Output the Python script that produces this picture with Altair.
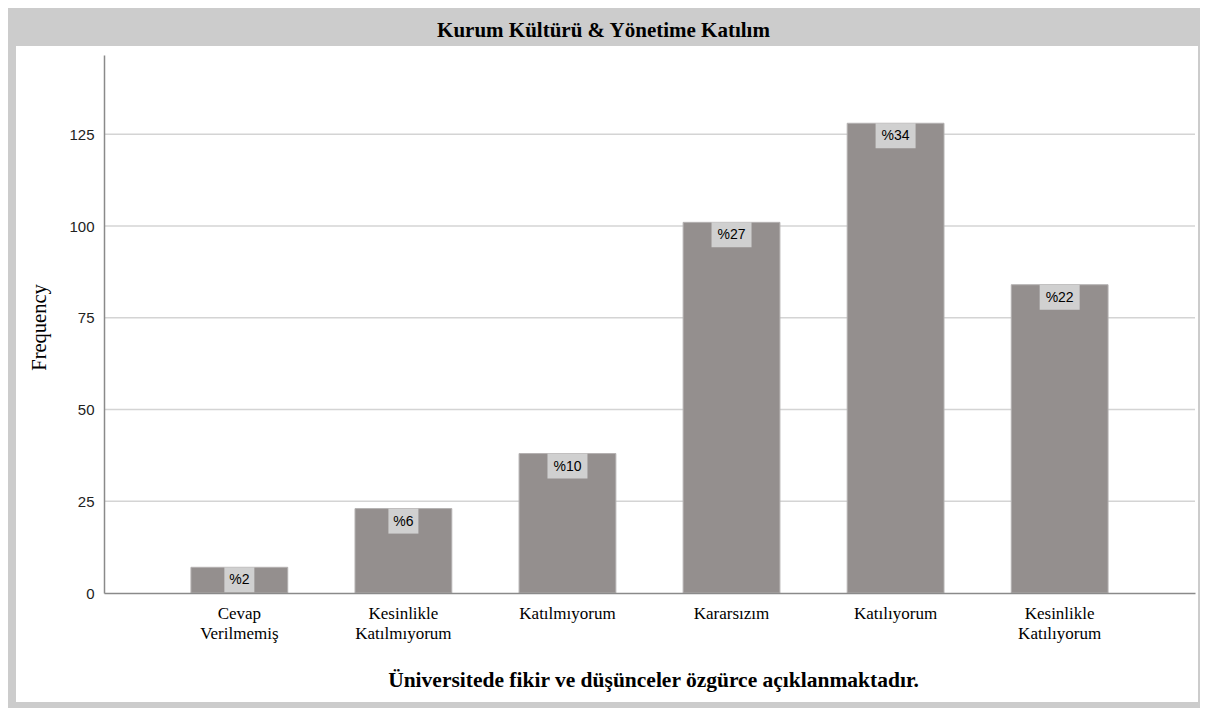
import altair as alt
import pandas as pd

# ---- data ----
categories = ["Cevap\nVerilmemiş", "Kesinlikle\nKatılmıyorum", "Katılmıyorum",
              "Kararsızım", "Katılıyorum", "Kesinlikle\nKatılıyorum"]
frequencies = [7, 23, 38, 101, 128, 84]
percent_labels = ["%2", "%6", "%10", "%27", "%34", "%22"]
y_ticks = [0, 25, 50, 75, 100, 125]

chart_title = "Kurum Kültürü & Yönetime Katılım"
x_title = "Üniversitede fikir ve düşünceler özgürce açıklanmaktadır."
y_title = "Frequency"

df = pd.DataFrame({"cat": categories, "count": frequencies, "pct": percent_labels})
grid_df = pd.DataFrame({"count": y_ticks[1:]})
panel_df = pd.DataFrame({"a": [0]})

W, H = 1091, 538
SERIF = "Liberation Serif"
SANS = "Liberation Sans"

xscale = alt.Scale(domain=categories, paddingInner=0.41, paddingOuter=0.53)
yscale = alt.Scale(domain=[0, 146.6], nice=False, zero=True)

x_axis = alt.Axis(
    title=x_title, labelExpr="split(datum.label, '\\n')", labelAngle=0,
    labelFont=SERIF, labelFontSize=17, labelColor="#000000", labelPadding=12,
    labelLineHeight=20, ticks=False, domainColor="#8a8a8a", domainWidth=1.5,
    titleFont=SERIF, titleFontSize=21.5, titleFontWeight="bold", titleColor="#000000",
    titleX=549, titleY=87, titleBaseline="middle", titleAlign="center", zindex=2,
)
y_axis = alt.Axis(
    values=y_ticks, title=y_title, grid=False, ticks=False,
    labelFont=SANS, labelFontSize=15, labelColor="#222222", labelPadding=10,
    domainColor="#8a8a8a", domainWidth=1.5,
    titleFont=SERIF, titleFontSize=20.5, titleFontWeight="normal", titleColor="#000000",
    titleX=-65, titleY=272, titleBaseline="middle", titleAlign="center", zindex=2,
)

panel = alt.Chart(panel_df).mark_rect(color="white").encode(
    x=alt.value(-88), x2=alt.value(1094), y=alt.value(-9), y2=alt.value(647)
)

grid = alt.Chart(grid_df).mark_rule(color="#d4d4d4", strokeWidth=1.5).encode(
    y=alt.Y("count:Q", scale=yscale, axis=y_axis),
    x=alt.value(0), x2=alt.value(W),
)

bars = alt.Chart(df).mark_bar(color="#948f8e", stroke="#b4b1b1", strokeWidth=1).encode(
    x=alt.X("cat:N", scale=xscale, axis=x_axis),
    y=alt.Y("count:Q", scale=yscale, axis=y_axis),
)

box_small = alt.Chart(df).transform_filter("length(datum.pct) <= 2").mark_bar(
    width=30, color="#d0d0d0", y2Offset=25
).encode(
    x=alt.X("cat:N", scale=xscale),
    y=alt.Y("count:Q", scale=yscale),
    y2="count:Q",
)
box_big = alt.Chart(df).transform_filter("length(datum.pct) > 2").mark_bar(
    width=40, color="#d0d0d0", y2Offset=25
).encode(
    x=alt.X("cat:N", scale=xscale),
    y=alt.Y("count:Q", scale=yscale),
    y2="count:Q",
)

labels = alt.Chart(df).mark_text(
    font=SANS, fontSize=14, color="#000000", baseline="middle", align="center", dy=13
).encode(
    x=alt.X("cat:N", scale=xscale),
    y=alt.Y("count:Q", scale=yscale),
    text="pct:N",
)

chart = alt.layer(panel, grid, bars, box_small, box_big, labels).properties(
    width=W, height=H,
    title=alt.TitleParams(chart_title, font=SERIF, fontSize=21, fontWeight="bold",
                          color="#000000", anchor="middle", dx=-46, dy=21, offset=15,
                          baseline="middle"),
    autosize=alt.AutoSizeParams(type="none"),
    padding={"left": 96, "top": 47, "right": 5, "bottom": 115},
    background="#cccccc",
).configure_view(stroke=None)

chart.save("out.html", embed_options={"renderer": "svg", "actions": False})
